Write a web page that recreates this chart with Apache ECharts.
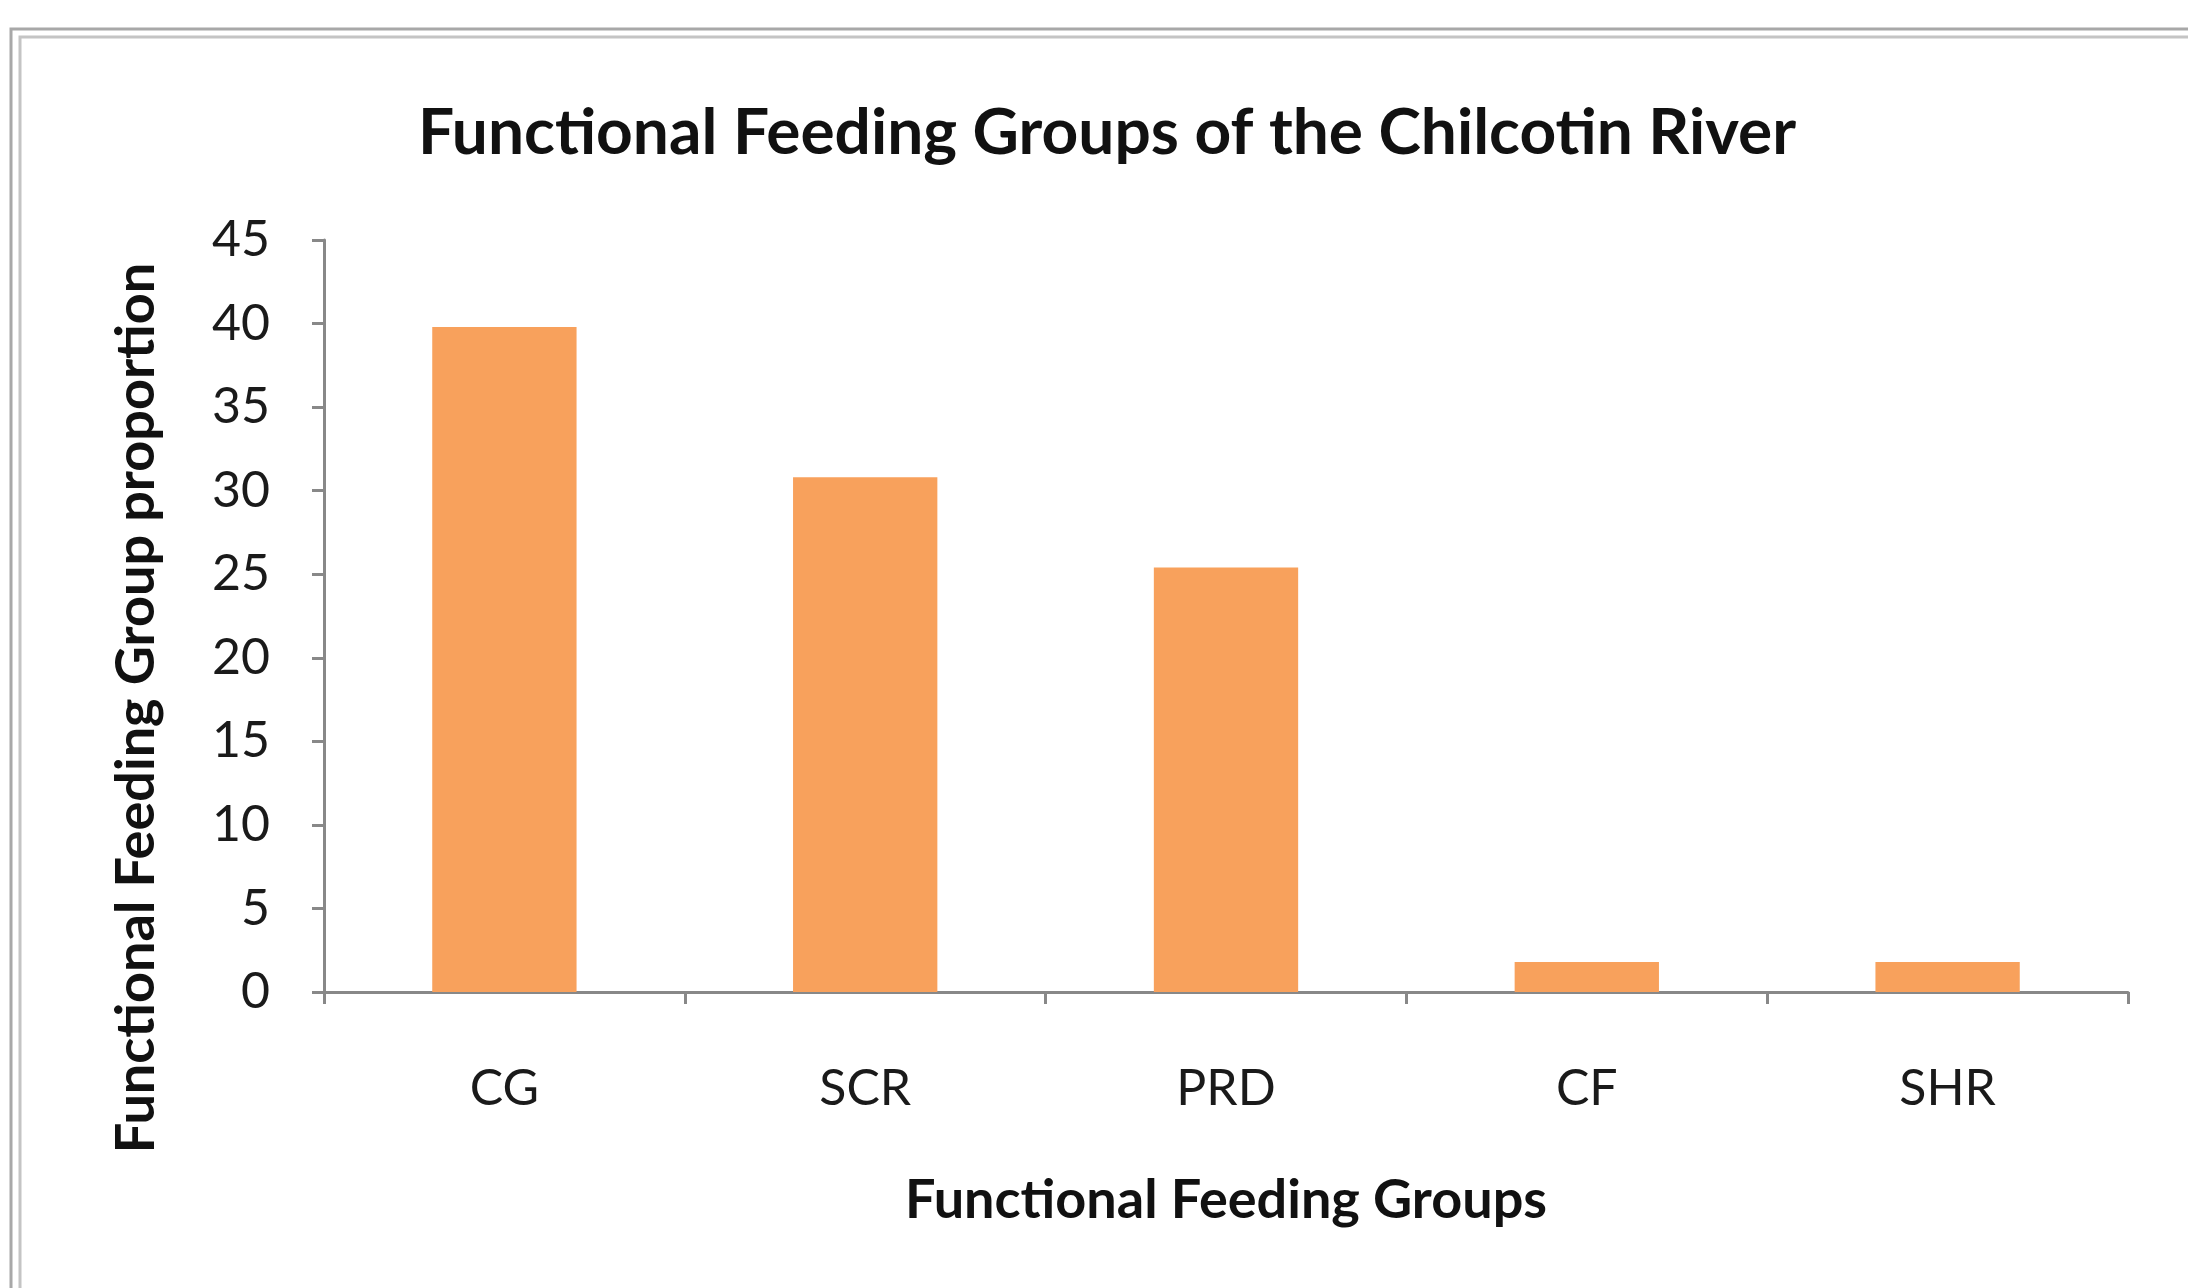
<!DOCTYPE html>
<html>
<head>
<meta charset="utf-8">
<script src="https://cdn.jsdelivr.net/npm/echarts@6/dist/echarts.min.js"></script>
<style>
  html, body { margin: 0; padding: 0; background: #fff; }
  #chart { width: 2188px; height: 1288px; }
</style>
</head>
<body>
<div id="chart"></div>
<script>
// values
const titleText = 'Functional Feeding Groups of the Chilcotin River';
const xName = 'Functional Feeding Groups';
const yName = 'Functional Feeding Group proportion';
const groups = ['CG', 'SCR', 'PRD', 'CF', 'SHR'];
const proportions = [39.8, 30.8, 25.4, 1.8, 1.8];

const chart = echarts.init(document.getElementById('chart'), null, { renderer: 'canvas' });

const font = 'Lato';

let option = {
  animation: false,
  backgroundColor: '#ffffff',
  title: {
    text: titleText,
    left: 1102,
    textAlign: 'center',
    top: 96,
    textStyle: { fontFamily: font, fontWeight: 'bold', fontSize: 64, color: '#111' }
  },
  grid: { left: 324, right: 60, top: 240, bottom: 296 },
  xAxis: {
    type: 'category',
    data: groups,
    name: xName,
    nameLocation: 'middle',
    nameGap: 182,
    nameTextStyle: { fontFamily: font, fontWeight: 'bold', fontSize: 54, color: '#111' },
    axisLine: { lineStyle: { color: '#888', width: 3 } },
    axisTick: { show: true, length: 12, lineStyle: { color: '#888', width: 3 } },
    axisLabel: { margin: 72, fontFamily: font, fontSize: 50, color: '#1a1a1a' }
  },
  yAxis: {
    type: 'value',
    min: 0,
    max: 45,
    interval: 5,
    axisLine: { show: true, lineStyle: { color: '#888', width: 3 } },
    axisTick: { show: true, length: 12, lineStyle: { color: '#888', width: 3 } },
    splitLine: { show: false },
    axisLabel: { margin: 54, align: 'right', fontFamily: font, fontSize: 50, color: '#1a1a1a' }
  },
  graphic: [
    {
      type: 'rect', silent: true,
      shape: { x: 11, y: 29, width: 2400, height: 1500 },
      style: { fill: 'none', stroke: '#a8a8a8', lineWidth: 3 }
    },
    {
      type: 'rect', silent: true,
      shape: { x: 20, y: 37, width: 2400, height: 1500 },
      style: { fill: 'none', stroke: '#c4c4c4', lineWidth: 3 }
    },
    {
      type: 'text', silent: true,
      x: 137, y: 708, rotation: Math.PI / 2,
      style: {
        text: yName, fontFamily: font, fontWeight: 'bold', fontSize: 54, fill: '#111',
        align: 'center', verticalAlign: 'middle'
      }
    }
  ],
  series: [{
    type: 'bar',
    data: proportions,
    barWidth: '40%',
    itemStyle: { color: '#f8a15c' }
  }]
};

chart.setOption(option);
</script>
</body>
</html>
